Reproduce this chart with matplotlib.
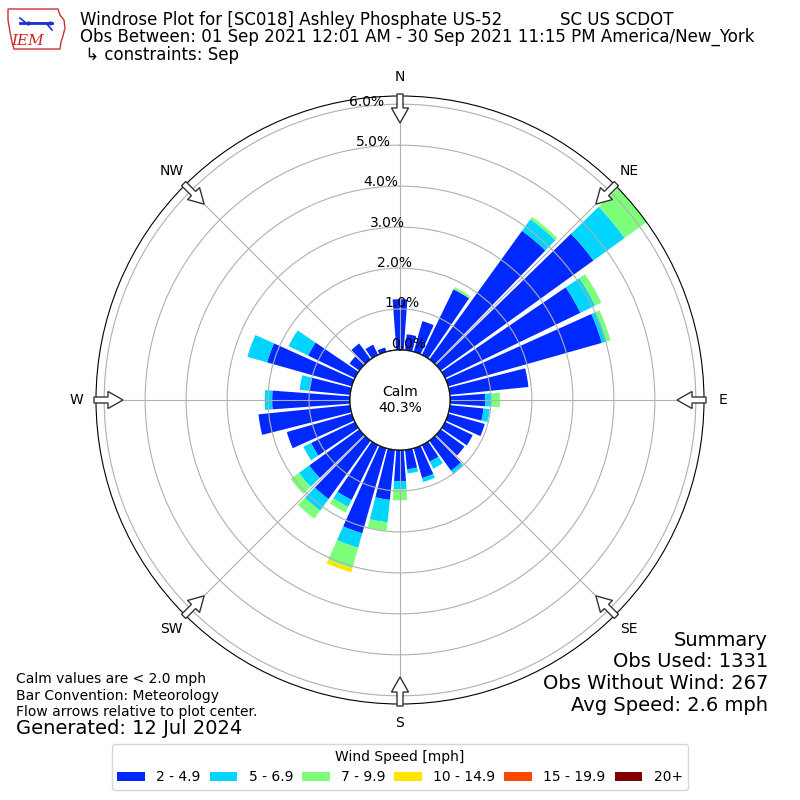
import numpy as np
import matplotlib
matplotlib.use("Agg")
import matplotlib.pyplot as plt
from matplotlib.patches import Patch, Circle, FancyArrow, Polygon

# ---------------- data ----------------
directions = list(range(0, 360, 10))
speed_bins = ["2 - 4.9", "5 - 6.9", "7 - 9.9", "10 - 14.9", "15 - 19.9", "20+"]
# percent frequency per 10-degree sector, by speed bin
v_2_5 = [1.24, 0.39, 0.78, 1.78, 3.87, 4.60, 3.67, 3.90, 1.93, 0.86,
         0.83, 0.93, 0.75, 0.72, 0.91, 0.45, 0.76, 0.48, 0.76, 1.23,
         2.16, 1.49, 1.76, 1.51, 1.19, 1.65, 2.25, 1.90, 1.00, 2.15,
         1.27, 0.30, 0.48, 0.28, 0.11, 0.00]
v_5_7 = [0.00, 0.00, 0.00, 0.00, 0.35, 0.94, 0.40, 0.12, 0.00, 0.16,
         0.15, 0.00, 0.00, 0.00, 0.08, 0.19, 0.10, 0.10, 0.20, 0.55,
         0.37, 0.19, 0.35, 0.31, 0.21, 0.00, 0.00, 0.18, 0.24, 0.50,
         0.53, 0.00, 0.00, 0.00, 0.00, 0.00]
v_7_10 = [0.00, 0.00, 0.00, 0.06, 0.07, 0.70, 0.17, 0.10, 0.00, 0.20,
          0.00, 0.00, 0.00, 0.00, 0.00, 0.00, 0.00, 0.00, 0.27, 0.21,
          0.52, 0.15, 0.24, 0.25, 0.00, 0.00, 0.00, 0.00, 0.00, 0.00,
          0.00, 0.00, 0.00, 0.00, 0.00, 0.00]
v_10_15 = [0.0] * 20 + [0.10] + [0.0] * 15
v_15_20 = [0.0] * 36
v_20p = [0.0] * 36
series = [v_2_5, v_5_7, v_7_10, v_10_15, v_15_20, v_20p]

r_ticks = [0, 1, 2, 3, 4, 5, 6]
compass = ["N", "NE", "E", "SE", "S", "SW", "W", "NW"]
calm_pct = 40.3

title1 = "Windrose Plot for [SC018] Ashley Phosphate US-52           SC US SCDOT"
title2 = "Obs Between: 01 Sep 2021 12:01 AM - 30 Sep 2021 11:15 PM America/New_York"
title3 = " \u21b3 constraints: Sep"
notes = ["Calm values are < 2.0 mph", "Bar Convention: Meteorology",
         "Flow arrows relative to plot center."]
generated = "Generated: 12 Jul 2024"
summary = ["Summary", "Obs Used: 1331", "Obs Without Wind: 267", "Avg Speed: 2.6 mph"]

# ---------------- figure ----------------
fig = plt.figure(figsize=(8, 8), dpi=100)
colors = plt.cm.jet(np.linspace(0, 1, 7)[1:])

ax = fig.add_axes([0.12, 0.12, 0.76, 0.76], projection="polar")
ax.set_theta_zero_location("N")
ax.set_theta_direction(-1)
rmax = 6.2
calm_px = 50.0
ax_px = 304.0
rorigin = calm_px * rmax / (ax_px - calm_px)
ax.set_rorigin(-rorigin)
ax.set_ylim(0, rmax)

theta = np.deg2rad(directions)
width = np.deg2rad(8.4)
bottom = np.zeros(len(directions))
for vals, c in zip(series, colors):
    vals = np.array(vals)
    ax.bar(theta, vals, width=width, bottom=bottom, color=c, linewidth=0,
           align="center", zorder=1)
    bottom = bottom + vals

ax.set_yticks(r_ticks)
ax.set_yticklabels([])
ax.set_xticks(np.deg2rad(np.arange(0, 360, 45)))
ax.set_xticklabels(compass, fontsize=10)
ax.tick_params(axis="x", pad=3.5)
ax.grid(True, color="#b0b0b0", lw=0.8)
for rt in r_ticks:
    ax.text(np.deg2rad(350), rt, f"{rt:.1f}%", ha="left", va="bottom",
            fontsize=10, zorder=6)

# calm circle
cc = Circle((0.5, 0.5), calm_px / (2 * ax_px), transform=ax.transAxes,
            facecolor="white", edgecolor="black", lw=1, zorder=4)
ax.add_patch(cc)
ax.text(0.5, 0.5, f"Calm\n{calm_pct:.1f}%", transform=ax.transAxes,
        ha="center", va="center", fontsize=10, zorder=5)

# flow arrows
r0 = 306 / (2 * ax_px)
L = 29 / (2 * ax_px)
for ang in np.deg2rad(np.arange(0, 360, 45)):
    sx, sy = 0.5 + r0 * np.sin(ang), 0.5 + r0 * np.cos(ang)
    dx, dy = -L * np.sin(ang), -L * np.cos(ang)
    arr = FancyArrow(sx, sy, dx, dy, width=6 / 608, head_width=17 / 608,
                     head_length=15 / 608, length_includes_head=True,
                     transform=ax.transAxes, facecolor="white",
                     edgecolor="#333333", lw=1, clip_on=False, zorder=10)
    ax.add_patch(arr)

# titles
def fy(px):
    return 1 - px / 800.0

fig.text(80 / 800, fy(20), title1, fontsize=12, va="center", ha="left")
fig.text(80 / 800, fy(37), title2, fontsize=12, va="center", ha="left")
fig.text(80 / 800, fy(55), title3, fontsize=12, va="center", ha="left")

# logo (approximation)
lax = fig.add_axes([6 / 800, fy(52), 62 / 800, 46 / 800])
lax.set_xlim(0, 62)
lax.set_ylim(46, 0)
lax.axis("off")
iowa = [(2, 3), (52, 3), (54, 9), (58, 14), (59, 22), (57, 30), (55, 36),
        (54, 43), (8, 43), (6, 36), (4, 26), (2, 14)]
lax.add_patch(Polygon(iowa, closed=True, facecolor="white",
                      edgecolor="#cc3333", lw=1))
lax.plot([14, 46], [17, 17], color="#1a33cc", lw=2)
lax.plot([14, 20, 40, 46], [12, 17, 17, 24], color="#1a33cc", lw=1.2)
lax.plot([22, 44], [17, 17], "o", color="#1a33cc", ms=2)
lax.text(22, 35, "IEM", color="#cc2222", fontsize=11, family="DejaVu Serif",
         style="italic", ha="center", va="center")

# notes
for i, t in enumerate(notes):
    fig.text(16 / 800, fy(679 + i * 16.7), t, fontsize=10, va="center", ha="left")
fig.text(16 / 800, fy(729), generated, fontsize=14, va="center", ha="left")

for i, t in enumerate(summary):
    fig.text(768 / 800, fy(640 + i * 21.7), t, fontsize=14, va="center", ha="right")

# legend
handles = [Patch(facecolor=c, edgecolor="none", label=l)
           for c, l in zip(colors, speed_bins)]
fig.legend(handles=handles, ncol=6, loc="lower center",
           bbox_to_anchor=(0.5, 0.0125), borderaxespad=0,
           title="Wind Speed [mph]", fontsize=10, title_fontsize=10,
           frameon=True, handlelength=2.0, handletextpad=0.8,
           columnspacing=0.65)

fig.savefig("out.png", dpi=100)
